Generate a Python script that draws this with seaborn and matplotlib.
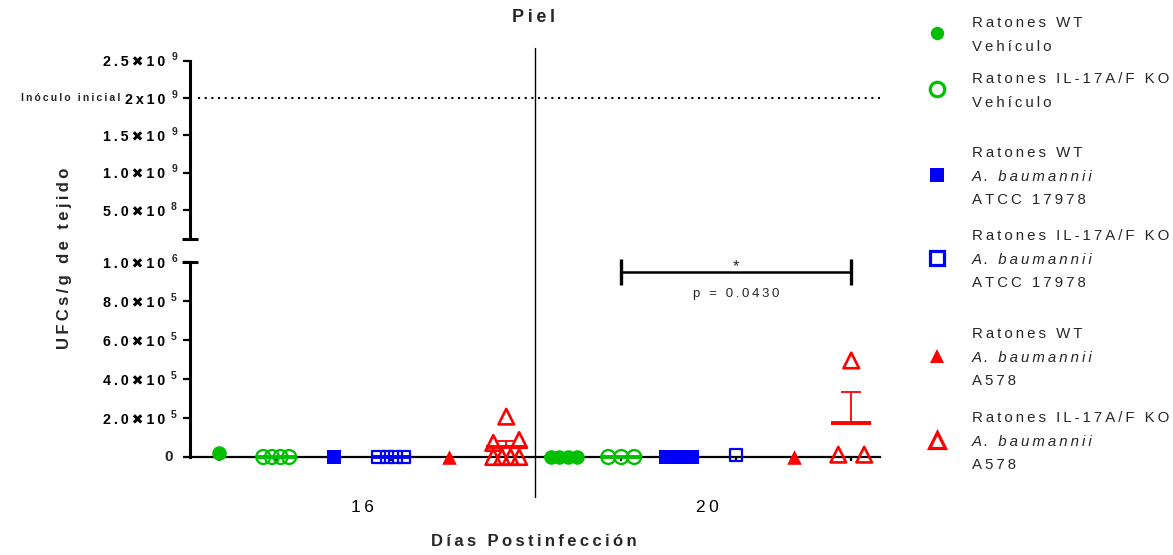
import numpy as np
import pandas as pd
import matplotlib
matplotlib.use("Agg")
import matplotlib.pyplot as plt
import seaborn as sns

# ------------------------------------------------------------------ data
days = ["16", "20"]
series_names = ["WT Vehículo", "KO Vehículo", "WT ATCC 17978",
                "KO ATCC 17978", "WT A578", "KO A578"]

# UFC/g de tejido (piel), día 16
wt_veh_d16 = [2.0e4]
ko_veh_d16 = [0, 0, 0, 0]
wt_atcc_d16 = [0]
ko_atcc_d16 = [0, 0, 0, 0]
wt_a578_d16 = [0]
ko_a578_d16 = [2.07e5, 8.7e4, 7.2e4, 0, 0, 0, 0]
# día 20
wt_veh_d20 = [0, 0, 0, 0]
ko_veh_d20 = [0, 0, 0]
wt_atcc_d20 = [0, 0, 0, 0]
ko_atcc_d20 = [1.0e4]
wt_a578_d20 = [0]
ko_a578_d20 = [4.95e5, 1.2e4, 1.2e4]

inoculo_inicial = 2.0e9
lower_ticks = [0, 2e5, 4e5, 6e5, 8e5, 1e6]
upper_ticks = [5e8, 1e9, 1.5e9, 2e9, 2.5e9]
p_text = "p = 0.0430"
sig_text = "*"
title_text = "Piel"
xlabel_text = "Días Postinfección"
ylabel_text = "UFCs/g de tejido"
inoculo_text = "Inóculo inicial"

legend_lines = [
    ["Ratones WT", "Vehículo"],
    ["Ratones IL-17A/F KO", "Vehículo"],
    ["Ratones WT", "A. baumannii", "ATCC 17978"],
    ["Ratones IL-17A/F KO", "A. baumannii", "ATCC 17978"],
    ["Ratones WT", "A. baumannii", "A578"],
    ["Ratones IL-17A/F KO", "A. baumannii", "A578"],
]

data_by_day = [
    [wt_veh_d16, ko_veh_d16, wt_atcc_d16, ko_atcc_d16, wt_a578_d16, ko_a578_d16],
    [wt_veh_d20, ko_veh_d20, wt_atcc_d20, ko_atcc_d20, wt_a578_d20, ko_a578_d20],
]

# ------------------------------------------------------------------ style
GREEN, BLUE, RED = "#00C000", "#0000FF", "#FF0000"
styles = [
    dict(marker="o", filled=True, color=GREEN, s=110, lw=0),
    dict(marker="o", filled=False, color=GREEN, s=100, lw=1.7),
    dict(marker="s", filled=True, color=BLUE, s=95, lw=0),
    dict(marker="s", filled=False, color=BLUE, s=80, lw=1.6),
    dict(marker="^", filled=True, color=RED, s=110, lw=0),
    dict(marker="^", filled=False, color=RED, s=125, lw=1.9),
]

sns.set_style("ticks")
FAM = ["Liberation Sans", "DejaVu Sans"]
plt.rcParams["font.family"] = FAM
plt.rcParams["axes.edgecolor"] = "black"
plt.rcParams["xtick.color"] = "black"
plt.rcParams["ytick.color"] = "black"

TS = "\u2009"


def sp(s):
    return TS.join(s)


def mantissa(v):
    if v == 0:
        return ""
    if v == inoculo_inicial:
        return sp("2x10")
    mant, exp = f"{v:.1e}".split("e")
    return sp(mant + "✖10")


def exponent(v):
    if v == 0:
        return ""
    return str(int(np.floor(np.log10(v) + 1e-9)))


def spread(vals, thr=4e4, width=0.45):
    vals = np.asarray(vals, float)
    order = np.argsort(vals, kind="stable")
    offs = np.zeros(len(vals))
    clusters, cur = [], [order[0]]
    for i in order[1:]:
        if vals[i] - vals[cur[-1]] <= thr:
            cur.append(i)
        else:
            clusters.append(cur)
            cur = [i]
    clusters.append(cur)
    for c in clusters:
        if len(c) > 1:
            offs[c] = np.linspace(-width / 2, width / 2, len(c))
    return offs


# long-form table
rows = []
for d, day in enumerate(days):
    for g, vals in enumerate(data_by_day[d]):
        pos = d * len(series_names) + g
        offs = spread(vals)
        for v, o in zip(vals, offs):
            rows.append(dict(day=day, serie=g, pos=pos, x=pos + o, ufc=v))
df = pd.DataFrame(rows)

# ------------------------------------------------------------------ figure
W, H = 1173, 555
fig = plt.figure(figsize=(W / 100, H / 100), dpi=100)


def rect(l, t, r, b):
    return [l / W, 1 - b / H, (r - l) / W, (b - t) / H]


ax_lo = fig.add_axes(rect(190, 262, 880, 457))
ax_hi = fig.add_axes(rect(190, 60.7, 880, 239))
ov = fig.add_axes([0, 0, 1, 1], zorder=5)
ov.set_xlim(0, W)
ov.set_ylim(H, 0)
ov.axis("off")
ov.patch.set_alpha(0)

npos = len(days) * len(series_names)
for a in (ax_lo, ax_hi):
    a.set_xlim(-0.5, npos - 0.5)
    a.patch.set_alpha(0)
    for s in ("top", "right"):
        a.spines[s].set_visible(False)
    a.spines["left"].set_linewidth(2.2)
    a.tick_params(axis="y", length=5, width=1.6, pad=13)

ax_lo.set_ylim(0, 1e6)
ax_hi.set_ylim(1.12e8, 2.5e9)
ax_hi.spines["bottom"].set_visible(False)
ax_hi.set_xticks([])
ax_lo.spines["bottom"].set_linewidth(1.6)

# points
for g, st in enumerate(styles):
    sub = df[df.serie == g]
    kw = dict(marker=st["marker"], s=st["s"], color=st["color"],
              edgecolor=st["color"], linewidth=st["lw"], legend=False,
              clip_on=False, zorder=4, ax=ax_lo)
    if not st["filled"]:
        kw["facecolors"] = "none"
    sns.scatterplot(data=sub, x="x", y="ufc", **kw)

# mean + SEM
for (pos, g), sub in df.groupby(["pos", "serie"]):
    v = sub.ufc.to_numpy()
    if len(v) < 2:
        continue
    col = styles[g]["color"]
    m = v.mean()
    sem = v.std(ddof=1) / np.sqrt(len(v))
    if sem > 0:
        ax_lo.errorbar([pos], [m], yerr=[[0], [sem]], fmt="none", ecolor=col,
                       elinewidth=1.3, capsize=7, capthick=1.3, zorder=5,
                       clip_on=False)
    ax_lo.plot([pos - 0.35, pos + 0.35], [m, m], color=col, lw=2.8,
               solid_capstyle="butt", zorder=6, clip_on=False)

# y ticks (mantissa as tick label, exponent as superscript annotation)
for a, ticks in ((ax_lo, lower_ticks), (ax_hi, upper_ticks)):
    a.set_yticks(ticks, [mantissa(t) for t in ticks])
    for lab in a.get_yticklabels():
        lab.set_fontweight("bold")
        lab.set_fontsize(10.3)
    for t in ticks:
        e = exponent(t)
        if e:
            a.annotate(e, xy=(0, t), xycoords=a.get_yaxis_transform(),
                       xytext=(-11.5, 2.5), textcoords="offset points",
                       ha="center", va="center", fontsize=7.5,
                       fontweight="bold", annotation_clip=False)
        else:
            a.annotate(sp(f"{t:g}"), xy=(0, t), xycoords=a.get_yaxis_transform(),
                       xytext=(-12, 0), textcoords="offset points",
                       ha="right", va="center", fontsize=11,
                       fontweight="bold", annotation_clip=False)

# x ticks
centers = [d * len(series_names) + (len(series_names) - 1) / 2 for d in range(len(days))]
ax_lo.set_xticks(centers, [sp(d) for d in days])
ax_lo.set_xticks(np.arange(npos), minor=True)
ax_lo.tick_params(axis="x", which="major", length=0, pad=31, labelsize=12.5)
ax_lo.tick_params(axis="x", which="minor", length=3, width=1.6)
ax_lo.set_xlabel("")
ax_lo.set_ylabel("")
ax_hi.set_ylabel("")

# broken-axis caps
c = 8 / 690
ax_hi.plot([-c, c], [0, 0], transform=ax_hi.transAxes, color="k", lw=2.2,
           clip_on=False, solid_capstyle="butt")
ax_lo.plot([-c, c], [1, 1], transform=ax_lo.transAxes, color="k", lw=2.2,
           clip_on=False, solid_capstyle="butt")

# inoculum line
ax_hi.axhline(inoculo_inicial, xmin=8 / 690, xmax=1, color="k", lw=1.5,
              ls=(0, (1, 2.2)))

# divider between days
xdiv = (len(series_names) - 0.5)
ax_lo.plot([xdiv, xdiv], [-0.205, 2.097], transform=ax_lo.get_xaxis_transform(),
           color="k", lw=1.0, clip_on=False, zorder=1)

# significance bracket (KO Vehículo vs KO A578 day 20)
x1, x2 = len(series_names) + 1, len(series_names) + 5
yb = 9.5e5
ax_lo.plot([x1, x2], [yb, yb], color="k", lw=1.8, clip_on=False)
for xx in (x1, x2):
    ax_lo.plot([xx, xx], [yb - 6.7e4, yb + 6.7e4], color="k", lw=2.4,
               clip_on=False, solid_capstyle="butt")
ax_lo.text((x1 + x2) / 2, yb + 4e3, sig_text, ha="center", va="baseline",
           fontsize=12)
ax_lo.text((x1 + x2) / 2, 8.38e5, sp(p_text), ha="center", va="center",
           fontsize=9.5)

# texts
ov.text(533, 18, sp(title_text), ha="center", va="center", fontsize=13,
        fontweight="bold")
ov.text(534, 542, sp(xlabel_text), ha="center", va="center", fontsize=12,
        fontweight="bold")
ov.text(65, 258, sp(ylabel_text), ha="center", va="center", fontsize=12,
        fontweight="bold", rotation=90)
ov.text(120, 98, sp(inoculo_text), ha="right", va="center", fontsize=7.5,
        fontweight="bold")

# legend (manual, to allow italics per line)
leg_top = [23, 79, 153, 236, 334, 418]
pitch = 23.6
for i, lines in enumerate(legend_lines):
    st = styles[i]
    ys = [leg_top[i] + k * pitch for k in range(len(lines))]
    for k, (t, y) in enumerate(zip(lines, ys)):
        ov.text(972, y, sp(t), ha="left", va="center", fontsize=10.8,
                style="italic" if t.startswith("A. ") else "normal")
    ym = np.mean(ys) - 2
    if st["filled"]:
        ov.plot([937], [ym], marker=st["marker"], ms=9.6 if st["marker"] != "^" else 10,
                color=st["color"], mew=0, ls="none", clip_on=False)
    else:
        ov.plot([937], [ym], marker=st["marker"], ms=10.4 if st["marker"] != "^" else 11.2,
                mfc="none", mec=st["color"], mew=2.3, ls="none", clip_on=False)

fig.savefig("out.png", dpi=100)
